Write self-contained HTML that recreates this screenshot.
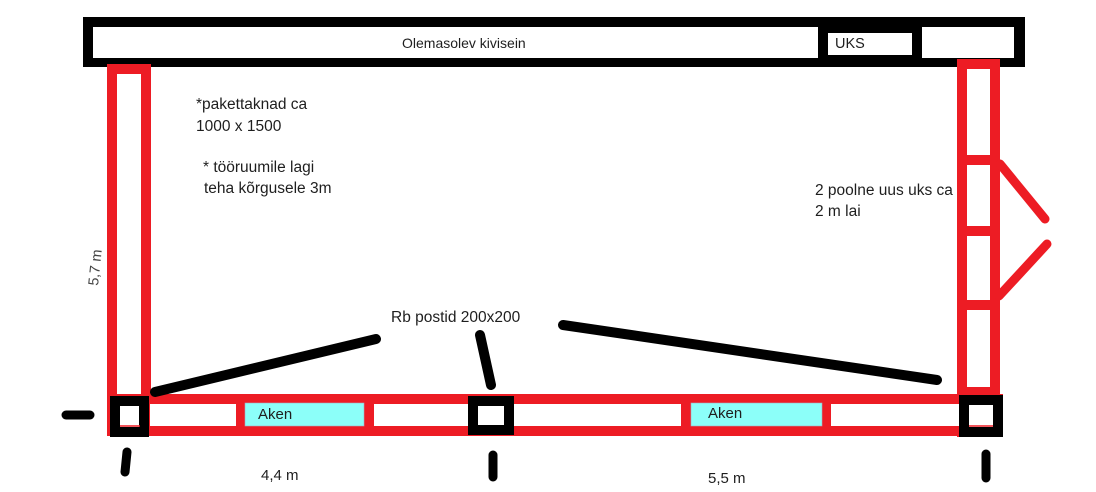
<!DOCTYPE html>
<html>
<head>
<meta charset="utf-8">
<style>
  html, body { margin:0; padding:0; background:#fff; }
  body { width:1096px; height:492px; overflow:hidden; }
  svg { display:block; }
  text { font-family: "Liberation Sans", "DejaVu Sans", sans-serif; fill:#1e1e1e; }
</style>
</head>
<body>
<svg width="1096" height="492" viewBox="0 0 1096 492" xmlns="http://www.w3.org/2000/svg">
  <rect x="0" y="0" width="1096" height="492" fill="#fff"/>

  <!-- Top existing stone wall -->
  <rect x="83" y="17" width="942" height="50" fill="#000"/>
  <rect x="93" y="27" width="725" height="31" fill="#fff"/>
  <rect x="828" y="33" width="84" height="22" fill="#fff"/>
  <rect x="922" y="27" width="92" height="31" fill="#fff"/>
  <text x="402" y="48" font-size="14">Olemasolev kivisein</text>
  <text x="835" y="48" font-size="14.5">UKS</text>

  <!-- Left wall column -->
  <rect x="107" y="64" width="44" height="372" fill="#ED1C24"/>
  <rect x="117" y="74" width="24" height="352" fill="#fff"/>

  <!-- Right wall column with doors -->
  <rect x="957" y="59" width="43" height="378" fill="#ED1C24"/>
  <rect x="967" y="69" width="23" height="86" fill="#fff"/>
  <rect x="967" y="165" width="23" height="61" fill="#fff"/>
  <rect x="967" y="236" width="23" height="64" fill="#fff"/>
  <rect x="967" y="310" width="23" height="77" fill="#fff"/>

  <!-- door leaves -->
  <line x1="1000" y1="164" x2="1045" y2="219" stroke="#ED1C24" stroke-width="9" stroke-linecap="round"/>
  <line x1="1047" y1="244" x2="999" y2="296" stroke="#ED1C24" stroke-width="9" stroke-linecap="round"/>

  <!-- Bottom wall -->
  <rect x="107" y="394" width="896" height="42" fill="#ED1C24"/>
  <rect x="150" y="404" width="86" height="22" fill="#fff"/>
  <rect x="245" y="403" width="119" height="23" fill="#8CFFF9" stroke="#aab" stroke-width="0.6"/>
  <rect x="374" y="404" width="94" height="22" fill="#fff"/>
  <rect x="514" y="404" width="167" height="22" fill="#fff"/>
  <rect x="691" y="403" width="131" height="23" fill="#8CFFF9" stroke="#aab" stroke-width="0.6"/>
  <rect x="831" y="404" width="128" height="22" fill="#fff"/>
  <text x="258" y="419" font-size="15">Aken</text>
  <text x="708" y="418" font-size="15">Aken</text>

  <!-- Posts -->
  <rect x="115" y="401" width="29" height="31" fill="#fff" stroke="#000" stroke-width="10"/>
  <line x1="120" y1="426" x2="140" y2="426" stroke="#ED1C24" stroke-width="1.5"/>
  <rect x="473" y="401" width="36" height="29" fill="#fff" stroke="#000" stroke-width="10"/>
  <rect x="964" y="400" width="34" height="32" fill="#fff" stroke="#000" stroke-width="10"/>
  <line x1="969" y1="426" x2="993" y2="426" stroke="#ED1C24" stroke-width="1.5"/>

  <!-- Pointer lines -->
  <line x1="155" y1="392" x2="376" y2="339" stroke="#000" stroke-width="10" stroke-linecap="round"/>
  <line x1="480" y1="335" x2="491" y2="385" stroke="#000" stroke-width="10" stroke-linecap="round"/>
  <line x1="563" y1="325" x2="937" y2="380" stroke="#000" stroke-width="10" stroke-linecap="round"/>

  <!-- Ticks -->
  <line x1="66" y1="415" x2="90" y2="415" stroke="#000" stroke-width="9" stroke-linecap="round"/>
  <line x1="127" y1="452" x2="125" y2="472" stroke="#000" stroke-width="9" stroke-linecap="round"/>
  <line x1="493" y1="455" x2="493" y2="477" stroke="#000" stroke-width="9" stroke-linecap="round"/>
  <line x1="986" y1="454" x2="986" y2="478" stroke="#000" stroke-width="9" stroke-linecap="round"/>

  <!-- Notes -->
  <text x="196" y="109" font-size="15.5">*pakettaknad ca</text>
  <text x="196" y="131" font-size="15.5">1000 x 1500</text>
  <text x="203" y="172" font-size="15.5">* tööruumile lagi</text>
  <text x="204" y="193" font-size="15.5">teha kõrgusele 3m</text>
  <text x="815" y="195" font-size="15.5">2 poolne uus uks ca</text>
  <text x="815" y="216" font-size="15.5">2 m lai</text>
  <text x="391" y="322" font-size="15.5">Rb postid 200x200</text>
  <text x="261" y="480" font-size="15">4,4 m</text>
  <text x="708" y="483" font-size="15">5,5 m</text>
  <text x="0" y="0" font-size="14.5" style="fill:#444" transform="translate(98,286) rotate(-84)">5,7 m</text>
</svg>
</body>
</html>
